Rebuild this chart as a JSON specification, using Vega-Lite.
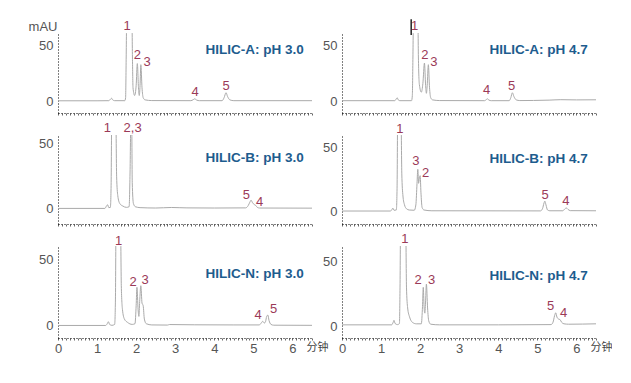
{
  "$schema": "https://vega.github.io/schema/vega-lite/v6.json",
  "padding": {"left": 28, "top": 18, "right": 0, "bottom": 0},
  "columns": 2,
  "bounds": "flush",
  "spacing": {"row": 22, "column": 30},
  "config": {
    "font": "Liberation Sans",
    "view": {"stroke": null},
    "axis": {"grid": false, "labelColor": "#555", "labelFontSize": 13, "labelFont": "Liberation Sans", "domainColor": "#000", "domainDash": [1, 2], "tickColor": "#666", "tickSize": 2},
    "axisY": {"tickSize": 0, "labelPadding": 5},
    "line": {"color": "#aaaaaa", "strokeWidth": 1, "interpolate": "monotone"},
    "text": {"fontSize": 13}
  },
  "datasets": {
    "trace": [
      {"p":"A3","t":0,"v":0.2},{"p":"A3","t":1.0,"v":0.2},{"p":"A3","t":1.30,"v":0.3},{"p":"A3","t":1.34,"v":1.5},{"p":"A3","t":1.37,"v":2.5},{"p":"A3","t":1.40,"v":1.0},{"p":"A3","t":1.45,"v":0.3},{"p":"A3","t":1.71,"v":0.3},{"p":"A3","t":1.73,"v":3},{"p":"A3","t":1.745,"v":40},{"p":"A3","t":1.76,"v":80},{"p":"A3","t":1.89,"v":80},{"p":"A3","t":1.905,"v":40},{"p":"A3","t":1.92,"v":12},{"p":"A3","t":1.96,"v":5},{"p":"A3","t":2.00,"v":14},{"p":"A3","t":2.03,"v":34},{"p":"A3","t":2.06,"v":12},{"p":"A3","t":2.08,"v":5},{"p":"A3","t":2.10,"v":14},{"p":"A3","t":2.12,"v":33},{"p":"A3","t":2.15,"v":12},{"p":"A3","t":2.18,"v":3},{"p":"A3","t":2.23,"v":1},{"p":"A3","t":2.4,"v":0.4},{"p":"A3","t":3.40,"v":0.3},{"p":"A3","t":3.46,"v":1.2},{"p":"A3","t":3.50,"v":2},{"p":"A3","t":3.55,"v":0.8},{"p":"A3","t":3.62,"v":0.3},{"p":"A3","t":4.20,"v":0.3},{"p":"A3","t":4.25,"v":3},{"p":"A3","t":4.30,"v":7.5},{"p":"A3","t":4.34,"v":4},{"p":"A3","t":4.40,"v":1},{"p":"A3","t":4.5,"v":0.3},{"p":"A3","t":6.5,"v":0.3},

      {"p":"A47","t":0,"v":0.3},{"p":"A47","t":1.35,"v":0.3},{"p":"A47","t":1.39,"v":2},{"p":"A47","t":1.41,"v":3},{"p":"A47","t":1.44,"v":1},{"p":"A47","t":1.48,"v":0.3},{"p":"A47","t":1.78,"v":0.3},{"p":"A47","t":1.80,"v":5},{"p":"A47","t":1.815,"v":40},{"p":"A47","t":1.83,"v":80},{"p":"A47","t":1.94,"v":80},{"p":"A47","t":1.955,"v":40},{"p":"A47","t":1.98,"v":15},{"p":"A47","t":2.03,"v":8},{"p":"A47","t":2.07,"v":16},{"p":"A47","t":2.11,"v":34.5},{"p":"A47","t":2.14,"v":14},{"p":"A47","t":2.16,"v":7},{"p":"A47","t":2.18,"v":14},{"p":"A47","t":2.21,"v":33},{"p":"A47","t":2.24,"v":12},{"p":"A47","t":2.27,"v":3},{"p":"A47","t":2.32,"v":1},{"p":"A47","t":2.5,"v":0.4},{"p":"A47","t":3.65,"v":0.3},{"p":"A47","t":3.70,"v":1.5},{"p":"A47","t":3.72,"v":2},{"p":"A47","t":3.76,"v":0.8},{"p":"A47","t":3.82,"v":0.3},{"p":"A47","t":4.28,"v":0.3},{"p":"A47","t":4.32,"v":3},{"p":"A47","t":4.36,"v":7.5},{"p":"A47","t":4.40,"v":4},{"p":"A47","t":4.46,"v":1},{"p":"A47","t":4.55,"v":0.4},{"p":"A47","t":4.9,"v":0.5},{"p":"A47","t":5.3,"v":0.8},{"p":"A47","t":5.6,"v":1.2},{"p":"A47","t":6.0,"v":1},{"p":"A47","t":6.5,"v":1.1},

      {"p":"B3","t":0,"v":0.2},{"p":"B3","t":1.20,"v":0.2},{"p":"B3","t":1.24,"v":2},{"p":"B3","t":1.27,"v":3},{"p":"B3","t":1.30,"v":0.8},{"p":"B3","t":1.34,"v":1},{"p":"B3","t":1.36,"v":20},{"p":"B3","t":1.375,"v":70},{"p":"B3","t":1.48,"v":70},{"p":"B3","t":1.50,"v":25},{"p":"B3","t":1.53,"v":10},{"p":"B3","t":1.58,"v":4},{"p":"B3","t":1.66,"v":2},{"p":"B3","t":1.75,"v":1},{"p":"B3","t":1.82,"v":1.5},{"p":"B3","t":1.845,"v":30},{"p":"B3","t":1.865,"v":70},{"p":"B3","t":1.885,"v":70},{"p":"B3","t":1.90,"v":20},{"p":"B3","t":1.93,"v":4},{"p":"B3","t":1.98,"v":1.5},{"p":"B3","t":2.1,"v":0.8},{"p":"B3","t":2.5,"v":0.5},{"p":"B3","t":2.9,"v":0.9},{"p":"B3","t":3.3,"v":0.6},{"p":"B3","t":4.0,"v":0.5},{"p":"B3","t":4.8,"v":0.6},{"p":"B3","t":4.87,"v":2.5},{"p":"B3","t":4.91,"v":5},{"p":"B3","t":4.94,"v":6.5},{"p":"B3","t":4.98,"v":4.5},{"p":"B3","t":5.02,"v":3.2},{"p":"B3","t":5.06,"v":2.5},{"p":"B3","t":5.10,"v":1},{"p":"B3","t":5.16,"v":0.5},{"p":"B3","t":6.5,"v":0.4},

      {"p":"B47","t":0,"v":0.2},{"p":"B47","t":1.24,"v":0.2},{"p":"B47","t":1.28,"v":1.5},{"p":"B47","t":1.30,"v":2.5},{"p":"B47","t":1.33,"v":0.8},{"p":"B47","t":1.39,"v":1},{"p":"B47","t":1.41,"v":20},{"p":"B47","t":1.425,"v":75},{"p":"B47","t":1.51,"v":75},{"p":"B47","t":1.53,"v":30},{"p":"B47","t":1.56,"v":12},{"p":"B47","t":1.60,"v":5},{"p":"B47","t":1.65,"v":2},{"p":"B47","t":1.72,"v":1},{"p":"B47","t":1.85,"v":0.8},{"p":"B47","t":1.89,"v":5},{"p":"B47","t":1.92,"v":22},{"p":"B47","t":1.94,"v":33},{"p":"B47","t":1.96,"v":22},{"p":"B47","t":1.98,"v":26},{"p":"B47","t":2.00,"v":28},{"p":"B47","t":2.02,"v":15},{"p":"B47","t":2.05,"v":3},{"p":"B47","t":2.10,"v":1},{"p":"B47","t":2.3,"v":0.4},{"p":"B47","t":5.08,"v":0.3},{"p":"B47","t":5.13,"v":2},{"p":"B47","t":5.17,"v":6.5},{"p":"B47","t":5.19,"v":8},{"p":"B47","t":5.22,"v":5},{"p":"B47","t":5.26,"v":1},{"p":"B47","t":5.32,"v":0.4},{"p":"B47","t":5.65,"v":0.4},{"p":"B47","t":5.70,"v":1.8},{"p":"B47","t":5.74,"v":2.6},{"p":"B47","t":5.78,"v":1.6},{"p":"B47","t":5.84,"v":0.5},{"p":"B47","t":6.5,"v":0.4},

      {"p":"N3","t":0,"v":0.2},{"p":"N3","t":1.22,"v":0.2},{"p":"N3","t":1.26,"v":1.5},{"p":"N3","t":1.29,"v":3},{"p":"N3","t":1.32,"v":1},{"p":"N3","t":1.38,"v":0.3},{"p":"N3","t":1.45,"v":1},{"p":"N3","t":1.47,"v":20},{"p":"N3","t":1.485,"v":75},{"p":"N3","t":1.60,"v":75},{"p":"N3","t":1.62,"v":30},{"p":"N3","t":1.65,"v":12},{"p":"N3","t":1.70,"v":5},{"p":"N3","t":1.78,"v":2.5},{"p":"N3","t":1.9,"v":1},{"p":"N3","t":1.97,"v":1.5},{"p":"N3","t":2.00,"v":15},{"p":"N3","t":2.02,"v":28.8},{"p":"N3","t":2.05,"v":12},{"p":"N3","t":2.07,"v":7},{"p":"N3","t":2.09,"v":18},{"p":"N3","t":2.12,"v":30},{"p":"N3","t":2.15,"v":17},{"p":"N3","t":2.18,"v":15},{"p":"N3","t":2.21,"v":5},{"p":"N3","t":2.26,"v":1.5},{"p":"N3","t":2.4,"v":0.6},{"p":"N3","t":2.8,"v":0.5},{"p":"N3","t":2.85,"v":0.9},{"p":"N3","t":3.5,"v":0.7},{"p":"N3","t":4.5,"v":0.6},{"p":"N3","t":5.15,"v":0.6},{"p":"N3","t":5.20,"v":2},{"p":"N3","t":5.24,"v":3.3},{"p":"N3","t":5.28,"v":2},{"p":"N3","t":5.31,"v":3},{"p":"N3","t":5.34,"v":7},{"p":"N3","t":5.37,"v":8},{"p":"N3","t":5.40,"v":4},{"p":"N3","t":5.45,"v":1},{"p":"N3","t":5.52,"v":0.4},{"p":"N3","t":6.5,"v":0.3},

      {"p":"N47","t":0,"v":1},{"p":"N47","t":1.27,"v":1},{"p":"N47","t":1.31,"v":3},{"p":"N47","t":1.33,"v":4.5},{"p":"N47","t":1.36,"v":2},{"p":"N47","t":1.42,"v":1.2},{"p":"N47","t":1.47,"v":2},{"p":"N47","t":1.485,"v":30},{"p":"N47","t":1.50,"v":78},{"p":"N47","t":1.63,"v":78},{"p":"N47","t":1.65,"v":30},{"p":"N47","t":1.68,"v":14},{"p":"N47","t":1.73,"v":7},{"p":"N47","t":1.80,"v":3},{"p":"N47","t":1.9,"v":1.8},{"p":"N47","t":2.03,"v":1.8},{"p":"N47","t":2.06,"v":15},{"p":"N47","t":2.08,"v":29.8},{"p":"N47","t":2.10,"v":15},{"p":"N47","t":2.12,"v":10},{"p":"N47","t":2.14,"v":20},{"p":"N47","t":2.16,"v":32.3},{"p":"N47","t":2.19,"v":14},{"p":"N47","t":2.22,"v":4},{"p":"N47","t":2.27,"v":1.5},{"p":"N47","t":2.5,"v":1},{"p":"N47","t":4.0,"v":1},{"p":"N47","t":5.35,"v":1.2},{"p":"N47","t":5.40,"v":3},{"p":"N47","t":5.44,"v":8},{"p":"N47","t":5.47,"v":10.3},{"p":"N47","t":5.50,"v":7},{"p":"N47","t":5.54,"v":5.5},{"p":"N47","t":5.58,"v":5},{"p":"N47","t":5.62,"v":3},{"p":"N47","t":5.68,"v":1.8},{"p":"N47","t":5.8,"v":1.5},{"p":"N47","t":6.5,"v":1.8}
    ],
    "labels": [
      {"p":"A3","t":1.77,"v":68,"s":"1"},{"p":"A3","t":2.03,"v":41.8,"s":"2"},{"p":"A3","t":2.28,"v":35.7,"s":"3"},{"p":"A3","t":3.51,"v":7.9,"s":"4"},{"p":"A3","t":4.30,"v":13.6,"s":"5"},
      {"p":"A47","t":1.86,"v":68,"s":"1"},{"p":"A47","t":2.12,"v":41.8,"s":"2"},{"p":"A47","t":2.35,"v":35.2,"s":"3"},{"p":"A47","t":3.70,"v":10,"s":"4"},{"p":"A47","t":4.34,"v":13.9,"s":"5"},
      {"p":"B3","t":1.26,"v":62.3,"s":"1"},{"p":"B3","t":1.91,"v":62.3,"s":"2,3"},{"p":"B3","t":4.82,"v":10.3,"s":"5"},{"p":"B3","t":5.16,"v":5.2,"s":"4"},
      {"p":"B47","t":1.48,"v":65,"s":"1"},{"p":"B47","t":1.89,"v":39.4,"s":"3"},{"p":"B47","t":2.14,"v":30.2,"s":"2"},{"p":"B47","t":5.20,"v":13,"s":"5"},{"p":"B47","t":5.73,"v":7.9,"s":"4"},
      {"p":"N3","t":1.55,"v":63.8,"s":"1"},{"p":"N3","t":1.92,"v":32.5,"s":"2"},{"p":"N3","t":2.23,"v":34.3,"s":"3"},{"p":"N3","t":5.12,"v":8,"s":"4"},{"p":"N3","t":5.52,"v":12.5,"s":"5"},
      {"p":"N47","t":1.61,"v":66.8,"s":"1"},{"p":"N47","t":1.95,"v":35.7,"s":"2"},{"p":"N47","t":2.29,"v":35.7,"s":"3"},{"p":"N47","t":5.34,"v":15.8,"s":"5"},{"p":"N47","t":5.67,"v":9.8,"s":"4"}
    ],
    "titles": [
      {"p":"A3","t":6.29,"v":46.4,"s":"HILIC-A: pH 3.0"},
      {"p":"A47","t":6.29,"v":46.4,"s":"HILIC-A: pH 4.7"},
      {"p":"B3","t":6.29,"v":39,"s":"HILIC-B: pH 3.0"},
      {"p":"B47","t":6.29,"v":41.4,"s":"HILIC-B: pH 4.7"},
      {"p":"N3","t":6.29,"v":38.8,"s":"HILIC-N: pH 3.0"},
      {"p":"N47","t":6.29,"v":38.3,"s":"HILIC-N: pH 4.7"}
    ]
  },
  "concat": [
    {
      "width": 254, "height": 80,
      "encoding": {
        "x": {"field": "t", "type": "quantitative", "scale": {"domain": [0, 6.5], "nice": false}, "axis": {"tickCount": 65, "labels": false, "title": null}},
        "y": {"field": "v", "type": "quantitative", "scale": {"domain": [-10.9, 61.8], "nice": false, "zero": false}, "axis": {"values": [0, 50], "title": "mAU", "titleAngle": 0, "titleAlign": "right", "titleBaseline": "middle", "titleX": -1, "titleY": -7, "titleFontWeight": "normal", "titleFontSize": 13, "titleColor": "#555", "titleFont": "Liberation Sans"}}
      },
      "layer": [
        {"data": {"name": "trace"}, "transform": [{"filter": "datum.p == 'A3'"}], "mark": {"type": "line", "clip": true}},
        {"data": {"name": "labels"}, "transform": [{"filter": "datum.p == 'A3'"}], "mark": {"type": "text", "color": "#9b3a58"}, "encoding": {"text": {"field": "s"}}},
        {"data": {"name": "titles"}, "transform": [{"filter": "datum.p == 'A3'"}], "mark": {"type": "text", "align": "right", "fontWeight": "bold", "color": "#1d5c8e", "fontSize": 13.5}, "encoding": {"text": {"field": "s"}}}
      ]
    },
    {
      "width": 254, "height": 80,
      "encoding": {
        "x": {"field": "t", "type": "quantitative", "scale": {"domain": [0, 6.5], "nice": false}, "axis": {"tickCount": 65, "labels": false, "title": null}},
        "y": {"field": "v", "type": "quantitative", "scale": {"domain": [-10.9, 61.8], "nice": false, "zero": false}, "axis": {"values": [0, 50], "title": null}}
      },
      "layer": [
        {"data": {"name": "trace"}, "transform": [{"filter": "datum.p == 'A47'"}], "mark": {"type": "line", "clip": true}},
        {"data": {"values": [{"t": 1.77, "v": 60, "v2": 74.3}]}, "mark": {"type": "rule", "color": "#000", "strokeWidth": 1.3}, "encoding": {"y2": {"field": "v2"}}},
        {"data": {"name": "labels"}, "transform": [{"filter": "datum.p == 'A47'"}], "mark": {"type": "text", "color": "#9b3a58"}, "encoding": {"text": {"field": "s"}}},
        {"data": {"name": "titles"}, "transform": [{"filter": "datum.p == 'A47'"}], "mark": {"type": "text", "align": "right", "fontWeight": "bold", "color": "#1d5c8e", "fontSize": 13.5}, "encoding": {"text": {"field": "s"}}}
      ]
    },
    {
      "width": 254, "height": 89,
      "encoding": {
        "x": {"field": "t", "type": "quantitative", "scale": {"domain": [0, 6.5], "nice": false}, "axis": {"tickCount": 65, "labels": false, "title": null}},
        "y": {"field": "v", "type": "quantitative", "scale": {"domain": [-11.8, 56.7], "nice": false, "zero": false}, "axis": {"values": [0, 50], "title": null}}
      },
      "layer": [
        {"data": {"name": "trace"}, "transform": [{"filter": "datum.p == 'B3'"}], "mark": {"type": "line", "clip": true}},
        {"data": {"name": "labels"}, "transform": [{"filter": "datum.p == 'B3'"}], "mark": {"type": "text", "color": "#9b3a58"}, "encoding": {"text": {"field": "s"}}},
        {"data": {"name": "titles"}, "transform": [{"filter": "datum.p == 'B3'"}], "mark": {"type": "text", "align": "right", "fontWeight": "bold", "color": "#1d5c8e", "fontSize": 13.5}, "encoding": {"text": {"field": "s"}}}
      ]
    },
    {
      "width": 254, "height": 89,
      "encoding": {
        "x": {"field": "t", "type": "quantitative", "scale": {"domain": [0, 6.5], "nice": false}, "axis": {"tickCount": 65, "labels": false, "title": null}},
        "y": {"field": "v", "type": "quantitative", "scale": {"domain": [-10, 60], "nice": false, "zero": false}, "axis": {"values": [0, 50], "title": null}}
      },
      "layer": [
        {"data": {"name": "trace"}, "transform": [{"filter": "datum.p == 'B47'"}], "mark": {"type": "line", "clip": true}},
        {"data": {"name": "labels"}, "transform": [{"filter": "datum.p == 'B47'"}], "mark": {"type": "text", "color": "#9b3a58"}, "encoding": {"text": {"field": "s"}}},
        {"data": {"name": "titles"}, "transform": [{"filter": "datum.p == 'B47'"}], "mark": {"type": "text", "align": "right", "fontWeight": "bold", "color": "#1d5c8e", "fontSize": 13.5}, "encoding": {"text": {"field": "s"}}}
      ]
    },
    {
      "width": 254, "height": 92,
      "encoding": {
        "x": {"field": "t", "type": "quantitative", "scale": {"domain": [0, 6.5], "nice": false}, "axis": {"tickCount": 65, "labelExpr": "datum.value == floor(datum.value) ? format(datum.value, 'd') : ''", "labelOverlap": false, "labelFlush": false, "labelPadding": 2, "title": "分钟", "titleAngle": 0, "titleAlign": "left", "titleBaseline": "middle", "titleX": 248, "titleY": 9, "titleFont": "Noto Sans CJK SC", "titleFontSize": 11, "titleFontWeight": "normal", "titleColor": "#444"}},
        "y": {"field": "v", "type": "quantitative", "scale": {"domain": [-9.2, 59.8], "nice": false, "zero": false}, "axis": {"values": [0, 50], "title": null}}
      },
      "layer": [
        {"data": {"name": "trace"}, "transform": [{"filter": "datum.p == 'N3'"}], "mark": {"type": "line", "clip": true}},
        {"data": {"name": "labels"}, "transform": [{"filter": "datum.p == 'N3'"}], "mark": {"type": "text", "color": "#9b3a58"}, "encoding": {"text": {"field": "s"}}},
        {"data": {"name": "titles"}, "transform": [{"filter": "datum.p == 'N3'"}], "mark": {"type": "text", "align": "right", "fontWeight": "bold", "color": "#1d5c8e", "fontSize": 13.5}, "encoding": {"text": {"field": "s"}}}
      ]
    },
    {
      "width": 254, "height": 92,
      "encoding": {
        "x": {"field": "t", "type": "quantitative", "scale": {"domain": [0, 6.5], "nice": false}, "axis": {"tickCount": 65, "labelExpr": "datum.value == floor(datum.value) ? format(datum.value, 'd') : ''", "labelOverlap": false, "labelFlush": false, "labelPadding": 2, "title": "分钟", "titleAngle": 0, "titleAlign": "left", "titleBaseline": "middle", "titleX": 248, "titleY": 9, "titleFont": "Noto Sans CJK SC", "titleFontSize": 11, "titleFontWeight": "normal", "titleColor": "#444"}},
        "y": {"field": "v", "type": "quantitative", "scale": {"domain": [-9.1, 61.6], "nice": false, "zero": false}, "axis": {"values": [0, 50], "title": null}}
      },
      "layer": [
        {"data": {"name": "trace"}, "transform": [{"filter": "datum.p == 'N47'"}], "mark": {"type": "line", "clip": true}},
        {"data": {"name": "labels"}, "transform": [{"filter": "datum.p == 'N47'"}], "mark": {"type": "text", "color": "#9b3a58"}, "encoding": {"text": {"field": "s"}}},
        {"data": {"name": "titles"}, "transform": [{"filter": "datum.p == 'N47'"}], "mark": {"type": "text", "align": "right", "fontWeight": "bold", "color": "#1d5c8e", "fontSize": 13.5}, "encoding": {"text": {"field": "s"}}}
      ]
    }
  ]
}
